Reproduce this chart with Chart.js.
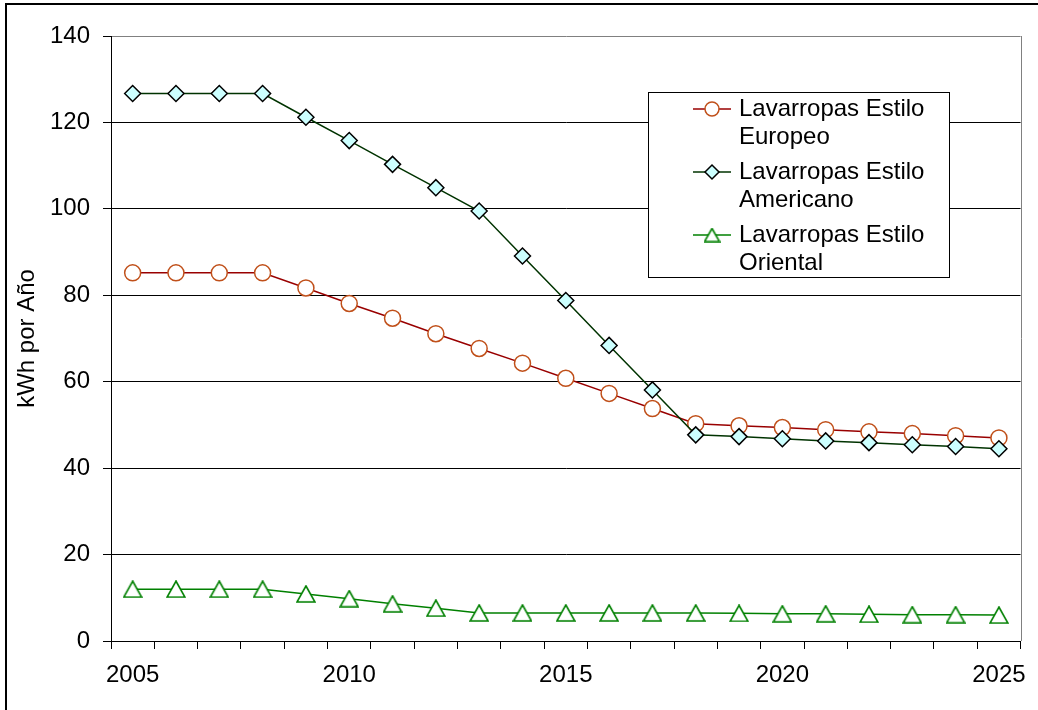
<!DOCTYPE html>
<html>
<head>
<meta charset="utf-8">
<title>Consumo de lavarropas</title>
<script src="https://cdn.jsdelivr.net/npm/chart.js@4/dist/chart.umd.min.js"></script>
<style>
    body { margin: 0; background: #fff; }
    canvas { display: block; }
</style>
</head>
<body>
<canvas id="line-chart" width="1038" height="710"></canvas>
<script>
const years = ['2005', '2006', '2007', '2008', '2009', '2010', '2011', '2012', '2013', '2014', '2015',
    '2016', '2017', '2018', '2019', '2020', '2021', '2022', '2023', '2024', '2025'];

const europeo = [85.2, 85.2, 85.2, 85.2, 81.7, 78.1, 74.7, 71.1, 67.7, 64.3, 60.8,
    57.3, 53.8, 50.3, 49.8, 49.4, 48.9, 48.4, 48.0, 47.5, 47.0];
const americano = [126.7, 126.7, 126.7, 126.7, 121.2, 115.8, 110.3, 104.9, 99.5, 89.1, 78.8,
    68.4, 58.1, 47.7, 47.3, 46.8, 46.3, 45.9, 45.4, 45.0, 44.5];
const oriental = [12.0, 12.0, 12.0, 12.0, 10.9, 9.8, 8.6, 7.6, 6.5, 6.5, 6.5,
    6.5, 6.5, 6.5, 6.4, 6.3, 6.3, 6.2, 6.1, 6.1, 6.0];

const seriesNames = ['Lavarropas Estilo Europeo', 'Lavarropas Estilo Americano', 'Lavarropas Estilo Oriental'];
const yTitle = 'kWh por Año';
const yMin = 0;
const yMax = 140;
const yStep = 20;

const fontFamily = '"Liberation Sans", Arial, sans-serif';

// triangle marker centred on its box (apex at top, base at bottom)
function makeTriangle(w, h, stroke) {
    let c = document.createElement('canvas');
    c.width = w;
    c.height = h;
    let g = c.getContext('2d');
    g.fillStyle = '#fff';
    g.strokeStyle = stroke;
    g.lineWidth = 1.6;
    g.beginPath();
    g.moveTo(w / 2, 1);
    g.lineTo(w - 1, h - 1);
    g.lineTo(1, h - 1);
    g.closePath();
    g.fill();
    g.stroke();
    return c;
}

const triangleMark = makeTriangle(20, 18, '#008000');
const triangleSmall = makeTriangle(17, 15, '#008000');

function drawMarker(ctx, style, x, y, r) {
    if (style instanceof HTMLCanvasElement) {
        ctx.drawImage(triangleSmall, x - triangleSmall.width / 2, y - triangleSmall.height / 2);
        return;
    }
    ctx.beginPath();
    if (style === 'circle') {
        ctx.arc(x, y, r, 0, Math.PI * 2);
    } else if (style === 'rectRot') {
        ctx.moveTo(x - r, y);
        ctx.lineTo(x, y - r);
        ctx.lineTo(x + r, y);
        ctx.lineTo(x, y + r);
        ctx.closePath();
    }
    ctx.fill();
    ctx.stroke();
}

function wrapText(ctx, text, maxWidth) {
    let words = text.split(' ');
    let lines = [];
    let line = '';
    for (let i = 0; i < words.length; i++) {
        let test = line ? line + ' ' + words[i] : words[i];
        if (line && ctx.measureText(test).width > maxWidth) {
            lines.push(line);
            line = words[i];
        } else {
            line = test;
        }
    }
    lines.push(line);
    return lines;
}

// white page with the black frame around the whole chart
const chartFrame = {
    id: 'chartFrame',
    beforeDraw(chart) {
        const ctx = chart.ctx;
        ctx.save();
        ctx.fillStyle = '#fff';
        ctx.fillRect(0, 0, chart.width, chart.height);
        ctx.strokeStyle = '#000';
        ctx.lineWidth = 2;
        ctx.strokeRect(6, 4, chart.width + 20, chart.height + 20);
        ctx.restore();
    },
    beforeDatasetsDraw(chart) {
        // grey edge on the right side of the plot area
        const area = chart.chartArea;
        const ctx = chart.ctx;
        ctx.save();
        ctx.strokeStyle = '#808080';
        ctx.lineWidth = 1;
        ctx.beginPath();
        ctx.moveTo(Math.round(area.right) + 0.5, area.top);
        ctx.lineTo(Math.round(area.right) + 0.5, area.bottom);
        ctx.stroke();
        ctx.restore();
    }
};

// legend box inside the plot, names wrapped on two lines
const boxLegend = {
    id: 'boxLegend',
    afterDatasetsDraw(chart) {
        const ctx = chart.ctx;
        const left = 648, top = 92, width = 301, height = 185;
        ctx.save();
        ctx.fillStyle = '#fff';
        ctx.fillRect(left, top, width, height);
        ctx.strokeStyle = '#000';
        ctx.lineWidth = 1;
        ctx.strokeRect(left + 0.5, top + 0.5, width, height);

        ctx.font = '24px ' + fontFamily;
        ctx.textBaseline = 'middle';
        ctx.textAlign = 'left';

        let y = top + 17;
        chart.data.datasets.forEach((ds) => {
            ctx.strokeStyle = ds.borderColor;
            ctx.lineWidth = ds.borderWidth;
            ctx.beginPath();
            ctx.moveTo(left + 45, y);
            ctx.lineTo(left + 83, y);
            ctx.stroke();

            ctx.fillStyle = ds.pointBackgroundColor;
            ctx.strokeStyle = ds.pointBorderColor;
            ctx.lineWidth = ds.pointBorderWidth;
            drawMarker(ctx, ds.pointStyle, left + 64, y, 7);

            ctx.fillStyle = '#000';
            let lines = wrapText(ctx, ds.label, 200);
            for (let i = 0; i < lines.length; i++) {
                ctx.fillText(lines[i], left + 91, y + i * 28);
            }
            y += 63;
        });
        ctx.restore();
    }
};

let config = {
    type: 'line',
    data: {
        labels: years,
        datasets: [
            {
                label: seriesNames[0],
                data: europeo,
                borderColor: '#990000',
                borderWidth: 1.5,
                pointStyle: 'circle',
                pointRadius: 8,
                pointBackgroundColor: '#ffffff',
                pointBorderColor: '#C0501A',
                pointBorderWidth: 1.5,
                tension: 0,
                order: 3
            },
            {
                label: seriesNames[1],
                data: americano,
                borderColor: '#003300',
                borderWidth: 1.5,
                pointStyle: 'rectRot',
                pointRadius: 8,
                pointBackgroundColor: '#CCFFFF',
                pointBorderColor: '#000000',
                pointBorderWidth: 1.5,
                tension: 0,
                order: 2
            },
            {
                label: seriesNames[2],
                data: oriental,
                borderColor: '#008000',
                borderWidth: 1.5,
                pointStyle: triangleMark,
                pointRadius: 10,
                pointBackgroundColor: '#ffffff',
                pointBorderColor: '#008000',
                pointBorderWidth: 1.5,
                tension: 0,
                order: 1
            }
        ]
    },
    options: {
        responsive: false,
        animation: false,
        layout: {
            padding: { left: 8, top: 36, right: 16, bottom: 0 }
        },
        plugins: {
            legend: { display: false },
            tooltip: { enabled: false }
        },
        scales: {
            x: {
                type: 'category',
                offset: true,
                afterFit: (scale) => { scale.height = 69; },
                grid: {
                    drawOnChartArea: false,
                    offset: true,
                    tickLength: 8,
                    color: '#000'
                },
                border: { color: '#000', width: 1 },
                ticks: {
                    autoSkip: false,
                    maxRotation: 0,
                    padding: 12,
                    color: '#000',
                    font: { family: fontFamily, size: 24 },
                    callback: function (value, index) {
                        return Number(years[index]) % 5 === 0 ? years[index] : '';
                    }
                }
            },
            y: {
                min: yMin,
                max: yMax,
                afterFit: (scale) => { scale.width = 103; },
                grid: {
                    tickLength: 8,
                    color: (ctx) => ctx.tick && ctx.tick.value === yMax ? '#808080' : '#000',
                    tickColor: '#000'
                },
                border: { color: '#000', width: 1 },
                ticks: {
                    stepSize: yStep,
                    padding: 13,
                    color: '#000',
                    font: { family: fontFamily, size: 24 }
                },
                title: {
                    display: true,
                    text: yTitle,
                    color: '#000',
                    padding: { top: 5, bottom: 0 },
                    font: { family: fontFamily, size: 24 }
                }
            }
        }
    },
    plugins: [chartFrame, boxLegend]
};

let ctx = document.getElementById('line-chart').getContext('2d');
window.myLine = new Chart(ctx, config);
</script>
</body>
</html>
